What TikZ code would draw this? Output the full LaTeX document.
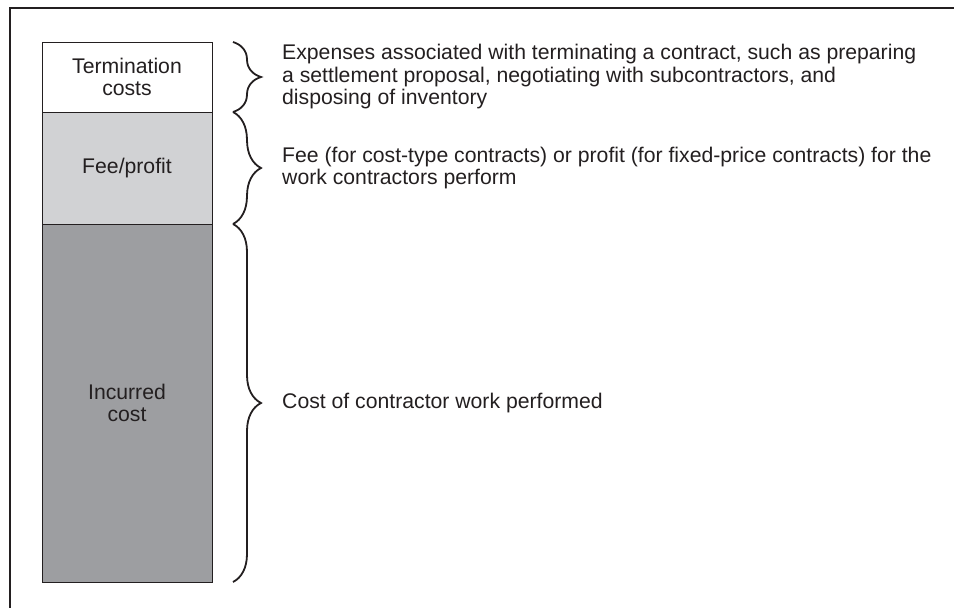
\documentclass[tikz,border=0pt]{standalone}
\usepackage{fontspec}
\setmainfont{Liberation Sans}
\usepackage[]{xcolor}
\usetikzlibrary{positioning,decorations.pathreplacing}

\definecolor{inkgray}{HTML}{231F20}
\definecolor{feegray}{HTML}{D1D2D4}
\definecolor{costgray}{HTML}{9D9EA1}

\begin{document}
\begin{tikzpicture}[
            x=1pt, y=-1pt,
            font=\fontsize{21.2}{22.5}\selectfont, text=inkgray,
            segment/.style={rectangle, draw=inkgray, line width=1pt, minimum width=170pt, inner sep=0pt, align=center, outer sep=0pt},
            curly/.style={decorate, decoration={brace, amplitude=28pt}, line width=1.8pt, draw=inkgray},
            note/.style={anchor=west, align=left, inner sep=0pt}
        ]
            \useasboundingbox (0,0) rectangle (954,608);
            \draw[line width=1.3pt, draw=inkgray] (10,608) -- (10,8) -- (954,8);

            \node[segment, fill=white, minimum height=70pt, anchor=north west] (term) at (42,42) {Termination\\costs};
            \node[segment, fill=feegray, minimum height=112pt, below=0pt of term] (fee) {Fee/profit};
            \node[segment, fill=costgray, minimum height=358pt, below=0pt of fee] (cost) {Incurred\\cost};

            \coordinate (t1) at ([xshift=21pt]term.north east);
            \coordinate (t2) at ([xshift=21pt]term.south east);
            \coordinate (f2) at ([xshift=21pt]fee.south east);
            \coordinate (c2) at ([xshift=21pt]cost.south east);

            \draw[curly] (t1) -- (t2);
            \draw[curly] (t2) -- (f2);
            \draw[curly] (f2) -- (c2);

            \node[note] (termtext) at ([xshift=70pt]term.east) {Expenses associated with terminating a contract, such as preparing\\a settlement proposal, negotiating with subcontractors, and\\disposing of inventory};
            \node[note] (feetext) at ([xshift=70pt]fee.east) {Fee (for cost-type contracts) or profit (for fixed-price contracts) for the\\work contractors perform};
            \node[note] (costtext) at ([xshift=70pt]cost.east) {Cost of contractor work performed};
        \end{tikzpicture}
\end{document}
